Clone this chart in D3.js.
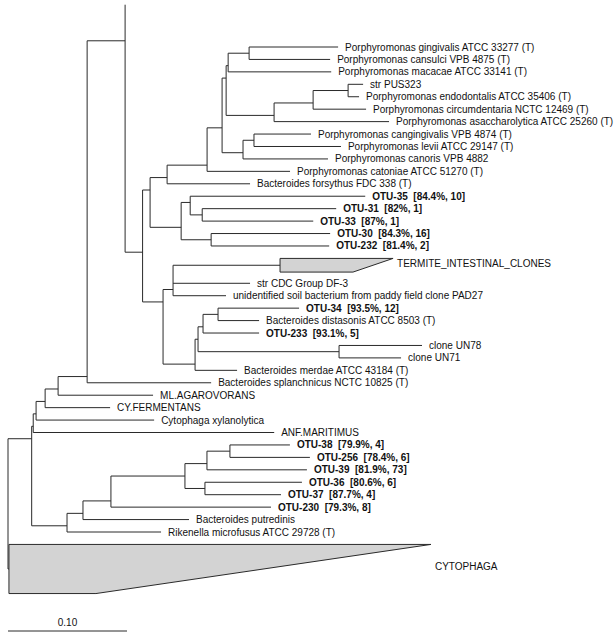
<!DOCTYPE html>
<html><head><meta charset="utf-8">
<script src="https://cdn.jsdelivr.net/npm/d3@7"></script>
<style>
body{margin:0;background:#fff}
svg{display:block}
text{font-family:"Liberation Sans",Arial,Helvetica,sans-serif;font-size:10px;fill:#111;white-space:pre}
</style>
</head><body><svg id="chart" width="615" height="640"></svg>
<script>
// ---- tree table: node id, parent id, branch length (substitutions/site), label ----
const nodeIds = ["root","A","B","C","D","E","F","G","stub","H","I","K","M","N","O","R","T",
 "gin","cans","maca","S","U","V","pus","endo","circ","asac","P","Q","cang","levi","cano","cato","fors",
 "L","W","o35","Y","o31","o33","X","o30","o232","J","Z","term","cdc","unid","AA","AB","AC","AE",
 "o34","dist","o233","AD","un78","un71","merd","spla","ml","cyf","cytx","anf","RIK","PUT","OTUg",
 "G2","G3","G5","o38","o256","o39","G4","o36","o37","o230","putr","rike","cyto"];
const parentIds = ["","root","A","B","C","D","E","F","G","G","H","I","K","M","N","O","R",
 "T","T","R","O","S","U","V","V","U","S","N","P","Q","Q","P","M","K",
 "I","L","W","W","Y","Y","L","X","X","H","J","Z","Z","Z","J","AA","AB","AC",
 "AE","AE","AC","AB","AD","AD","AA","F","E","D","C","B","A","RIK","PUT",
 "OTUg","G2","G3","G5","G5","G3","G2","G4","G4","OTUg","PUT","RIK","root"];
const branchLengths = [0,0.0199,0.0013,0.0024,0.0076,0.0109,0.0244,0.0319,0,0.0147,0.0063,0.0143,0.0336,0.0126,0.0034,0.0017,0.0176,
 0.0748,0.0681,0.0866,0.0403,0.0328,0.0294,0.0126,0.0092,0.0445,0.0966,0.0176,0.0092,0.0479,0.0731,0.0714,0.0697,0.0697,
 0.0261,0.0076,0.1471,0.0101,0.1126,0.0933,0.0252,0.1000,0.0992,0.0172,0.0084,0.0899,0.0647,0.0445,0.0269,0.0025,0.0042,0.0126,
 0.0681,0.0345,0.0471,0.1185,0.0697,0.0521,0.0353,0.1042,0.0798,0.0546,0.0992,0.2025,0.0297,0.0134,0.0235,
 0.0622,0.0185,0.0193,0.0504,0.0672,0.0840,0.0168,0.0815,0.0639,0.1345,0.0891,0.0790,0.0008];
const leafLabels = {
 gin:"Porphyromonas gingivalis ATCC 33277 (T)", cans:"Porphyromonas cansulci VPB 4875 (T)",
 maca:"Porphyromonas macacae ATCC 33141 (T)", pus:"str PUS323",
 endo:"Porphyromonas endodontalis ATCC 35406 (T)", circ:"Porphyromonas circumdentaria NCTC 12469 (T)",
 asac:"Porphyromonas asaccharolytica ATCC 25260 (T)", cang:"Porphyromonas cangingivalis VPB 4874 (T)",
 levi:"Porphyromonas levii ATCC 29147 (T)", cano:"Porphyromonas canoris VPB 4882",
 cato:"Porphyromonas catoniae ATCC 51270 (T)", fors:"Bacteroides forsythus FDC 338 (T)",
 o35:"OTU-35  [84.4%, 10]", o31:"OTU-31  [82%, 1]", o33:"OTU-33  [87%, 1]",
 o30:"OTU-30  [84.3%, 16]", o232:"OTU-232  [81.4%, 2]", term:"TERMITE_INTESTINAL_CLONES",
 cdc:"str CDC Group DF-3", unid:"unidentified soil bacterium from paddy field clone PAD27",
 o34:"OTU-34  [93.5%, 12]", dist:"Bacteroides distasonis ATCC 8503 (T)", o233:"OTU-233  [93.1%, 5]",
 un78:"clone UN78", un71:"clone UN71", merd:"Bacteroides merdae ATCC 43184 (T)",
 spla:"Bacteroides splanchnicus NCTC 10825 (T)", ml:"ML.AGAROVORANS", cyf:"CY.FERMENTANS",
 cytx:"Cytophaga xylanolytica", anf:"ANF.MARITIMUS",
 o38:"OTU-38  [79.9%, 4]", o256:"OTU-256  [78.4%, 6]", o39:"OTU-39  [81.9%, 73]",
 o36:"OTU-36  [80.6%, 6]", o37:"OTU-37  [87.7%, 4]", o230:"OTU-230  [79.3%, 8]",
 putr:"Bacteroides putredinis", rike:"Rikenella microfusus ATCC 29728 (T)", cyto:"CYTOPHAGA"
};
// collapsed groups (drawn as wedges)
const collapsedIds = ["term","cyto"];
const collapsedSlots = [2, 4];          // leaf rows occupied
const collapsedHeight = [1.1, 3.95];    // wedge height in rows
const collapsedMaxDepth = [0.0950, 0.3546];
const collapsedMinDepth = [0.0613, 0.0731];
const stubRow = -3.4;                   // unlabeled zero-length tip at top
const scaleBarValue = 0.10, scaleBarLabel = "0.10";

// ---- layout ----
const table = nodeIds.map((id,i)=>({id, parent: parentIds[i], len: branchLengths[i], label: leafLabels[id]||""}));
const root = d3.stratify().id(d=>d.id).parentId(d=>d.parent)(table);
root.eachBefore(n => { n.dist = n.parent ? n.parent.dist + n.data.len : 0; });

let slot = -1;
root.leaves().forEach(n => {
  const ci = collapsedIds.indexOf(n.id);
  if (n.id === "stub") { n.slotMin = n.slotMax = slot; n.row = stubRow; slot++; }
  else if (ci >= 0) {
    n.collapsed = ci;
    n.slotMin = slot; n.slotMax = slot + collapsedSlots[ci] - 1;
    n.top = slot; n.bottom = slot + collapsedHeight[ci];
    n.row = slot + collapsedHeight[ci]/2;
    slot += collapsedSlots[ci];
  } else { n.slotMin = n.slotMax = n.row = slot; slot++; }
});
root.eachAfter(n => {
  if (!n.children) return;
  const c = n.children, k = c.length;
  n.slotMin = c[0].slotMin; n.slotMax = c[k-1].slotMax;
  n.row = (c[k-2].slotMax + c[k-1].slotMin)/2;
});

const x = d3.scaleLinear().domain([0, 0.1]).range([8, 127]);
const y = d3.scaleLinear().domain([0, 39]).range([47, 532]);

const svg = d3.select("#chart");
const g = svg.append("g").attr("fill","none").attr("stroke","#2a2a2a").attr("stroke-width",1);

// collapsed wedges
root.leaves().filter(n => n.collapsed !== undefined).forEach(n => {
  const ci = n.collapsed;
  const pts = [[x(n.dist), y(n.top)], [x(n.dist + collapsedMaxDepth[ci]), y(n.top)],
               [x(n.dist + collapsedMinDepth[ci]), y(n.bottom)], [x(n.dist), y(n.bottom)]];
  g.append("path").attr("d", d3.line()(pts) + "Z").attr("fill","#d3d3d3");
});

// horizontal branches
root.descendants().filter(n => n.parent).forEach(n => {
  g.append("line").attr("x1", x(n.parent.dist)).attr("x2", x(n.dist))
   .attr("y1", y(n.row)).attr("y2", y(n.row));
});
// vertical connectors
root.descendants().filter(n => n.children).forEach(n => {
  const c = n.children;
  g.append("line").attr("x1", x(n.dist)).attr("x2", x(n.dist))
   .attr("y1", y(c[0].row)).attr("y2", y(c[c.length-1].row));
});

// labels
root.leaves().filter(n => n.data.label).forEach(n => {
  const isC = n.collapsed !== undefined;
  const tx = isC ? x(n.dist + collapsedMaxDepth[n.collapsed]) + 4 : x(n.dist) + 7;
  const ty = isC ? y(n.row) - 2 : y(n.row);
  svg.append("text").attr("x", tx).attr("y", ty).attr("dy","0.35em")
    .attr("font-weight", n.data.label.startsWith("OTU-") ? "bold" : "normal")
    .text(n.data.label);
});

// scale bar
svg.append("line").attr("x1", x(0)).attr("x2", x(scaleBarValue)).attr("y1",631).attr("y2",631)
  .attr("stroke","#2a2a2a").attr("stroke-width",1);
svg.append("text").attr("x", (x(0)+x(scaleBarValue))/2).attr("y",622).attr("dy","0.35em")
  .attr("text-anchor","middle").text(scaleBarLabel);
</script>
</body></html>
